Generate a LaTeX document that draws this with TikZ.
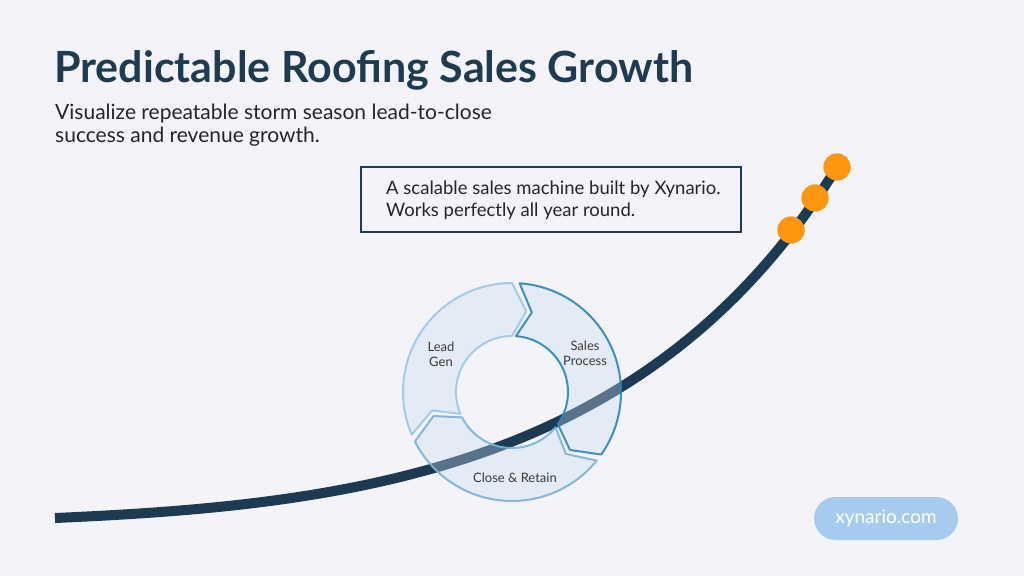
\documentclass[tikz,border=0pt]{standalone}
\usepackage{fontspec}
\setmainfont{Lato}
\usetikzlibrary{calc}
\definecolor{bg}{HTML}{F3F3F8}
\definecolor{navy}{HTML}{1F3B4F}
\definecolor{curve}{HTML}{1C3A52}
\definecolor{dot}{HTML}{FF960F}
\definecolor{pill}{HTML}{A7CBEE}
\definecolor{lightedge}{HTML}{9CC8E6}
\definecolor{midedge}{HTML}{7AB3D9}
\definecolor{darkedge}{HTML}{2A86BD}
\definecolor{partfill}{HTML}{C9DEF2}
\definecolor{labeltext}{HTML}{3A3A3A}

% one arrow piece of the ring: start angle, end angle, style
\newcommand{\ringpart}[3]{%
  \draw[#3] ($(c)+({#1+4}:109)$) arc[start angle={#1+4}, end angle=#2, radius=109]
    -- ($(c)+({#2+10}:82)$) -- ($(c)+(#2:56)$)
    arc[start angle=#2, end angle={#1+4}, radius=56]
    -- ($(c)+({#1+14}:82)$) -- cycle;}

\tikzset{
  part/.style={line width=2pt, line join=round, fill=partfill, fill opacity=0.35, draw opacity=0.9},
  partlabel/.style={text=labeltext, font=\fontsize{13}{15}\selectfont, align=center},
  orangedot/.style={circle, fill=dot, minimum size=27pt, inner sep=0pt}
}

\begin{document}
\begin{tikzpicture}[x=1pt, y=-1pt]
\fill[bg] (0,0) rectangle (1024,576);
\useasboundingbox (0,0) rectangle (1024,576);

\node[anchor=base west, inner sep=0pt, text=navy, font=\fontsize{43}{50}\selectfont\bfseries] (title) at (54,82) {Predictable Roofing Sales Growth};
\node[anchor=north west, inner sep=0pt, align=left, text=black!85, font=\fontsize{21}{23}\selectfont] (sub) at (55,104) {Visualize repeatable storm season lead-to-close\\success and revenue growth.};

\node[draw=navy, line width=2.5pt, minimum width=380pt, minimum height=65pt] (box) at (551,199.5) {};
\node[anchor=west, inner sep=0pt, align=left, text=black!85, font=\fontsize{18.5}{22}\selectfont] (boxtext) at (386,200) {A scalable sales machine built by Xynario.\\Works perfectly all year round.};

\coordinate (start) at (55,518);
\node[orangedot] (d1) at (791,230) {};
\node[orangedot] (d2) at (815,198) {};
\node[orangedot] (d3) at (837,167) {};
\draw[curve, line width=10pt] (start) .. controls (350,505) and (650,470) .. (d3.center);
\node[orangedot] at (d1) {};
\node[orangedot] at (d2) {};
\node[orangedot] at (d3) {};

\coordinate (c) at (512,392);
\ringpart{153}{270}{part, draw=lightedge}
\ringpart{-90}{35}{part, draw=darkedge}
\ringpart{35}{153}{part, draw=midedge}

\node[partlabel] (lead) at (441,354) {Lead\\Gen};
\node[partlabel] (sales) at (585,353) {Sales\\Process};
\node[partlabel] (close) at (515,478) {Close \& Retain};

\node[fill=pill, rounded corners=21.5pt, minimum width=144pt, minimum height=43pt, text=white, font=\fontsize{19}{22}\selectfont] (web) at (886,518.5) {xynario.com};
\end{tikzpicture}
\end{document}
